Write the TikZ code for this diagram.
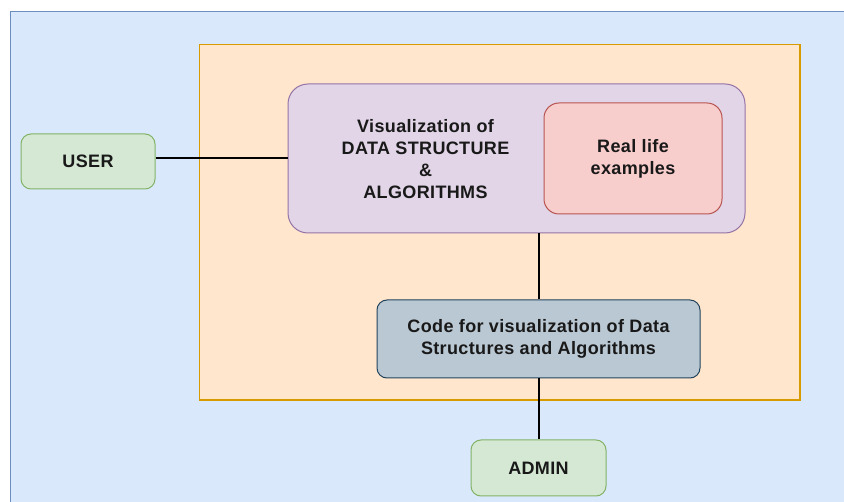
\documentclass[tikz,border=0pt]{standalone}
\usepackage{fontspec}
\setmainfont{Liberation Sans}
\newfontfamily\lblfont[LetterSpace=2]{Liberation Sans}
\definecolor{bluefill}{HTML}{DAE8FC}
\definecolor{bluedraw}{HTML}{6C8EBF}
\definecolor{orfill}{HTML}{FFE6CC}
\definecolor{ordraw}{HTML}{D79B00}
\definecolor{pufill}{HTML}{E1D5E7}
\definecolor{pudraw}{HTML}{9673A6}
\definecolor{pkfill}{HTML}{F8CECC}
\definecolor{pkdraw}{HTML}{B85450}
\definecolor{grfill}{HTML}{D5E8D4}
\definecolor{grdraw}{HTML}{82B366}
\definecolor{gyfill}{HTML}{BAC8D3}
\definecolor{gydraw}{HTML}{23445D}
\begin{document}
\begin{tikzpicture}[x=1pt,y=-1pt,
  lbl/.style={font=\lblfont\fontsize{18}{22}\selectfont\bfseries, align=center, text=black!90},
  box/.style={draw, line width=1pt, rounded corners=10pt, inner sep=0pt},
  conn/.style={draw=black, line width=2pt}]
\useasboundingbox (0,0) rectangle (844,502);
\begin{scope}
\clip (0,0) rectangle (844,502);
\fill[white] (0,0) rectangle (844,502);
\draw[fill=bluefill, draw=bluedraw, line width=1.2pt] (10.5,11.5) rectangle (860,520);
\end{scope}
\node[draw=ordraw, fill=orfill, line width=1.2pt, minimum width=600.5pt, minimum height=355.5pt, inner sep=0pt] (sys) at (499.75,222.25) {};
\node[box, draw=pudraw, fill=pufill, rounded corners=20pt, minimum width=457pt, minimum height=149pt] (vis) at (516.5,158.5) {};
\node[lbl] (vistext) at (425.5,159) {Visualization of\\DATA STRUCTURE\\\&\\ALGORITHMS};
\node[box, draw=pkdraw, fill=pkfill, rounded corners=15pt, minimum width=178pt, minimum height=111pt, lbl] (real) at (633,158.5) {Real life\\examples};
\node[box, draw=grdraw, fill=grfill, minimum width=134pt, minimum height=55pt, lbl] (user) at (88,161.5) {USER};
\node[box, draw=gydraw, fill=gyfill, minimum width=323pt, minimum height=78pt, lbl] (code) at (538.5,339) {Code for visualization of Data\\Structures and Algorithms};
\node[box, draw=grdraw, fill=grfill, minimum width=135pt, minimum height=56pt, lbl] (admin) at (538.5,468) {ADMIN};
\draw[conn] (user.east |- 0,158.5) -- (vis.west);
\draw[conn] (code.north) -- (code.north |- vis.south);
\draw[conn] (code.south) -- (admin.north);
\end{tikzpicture}
\end{document}
